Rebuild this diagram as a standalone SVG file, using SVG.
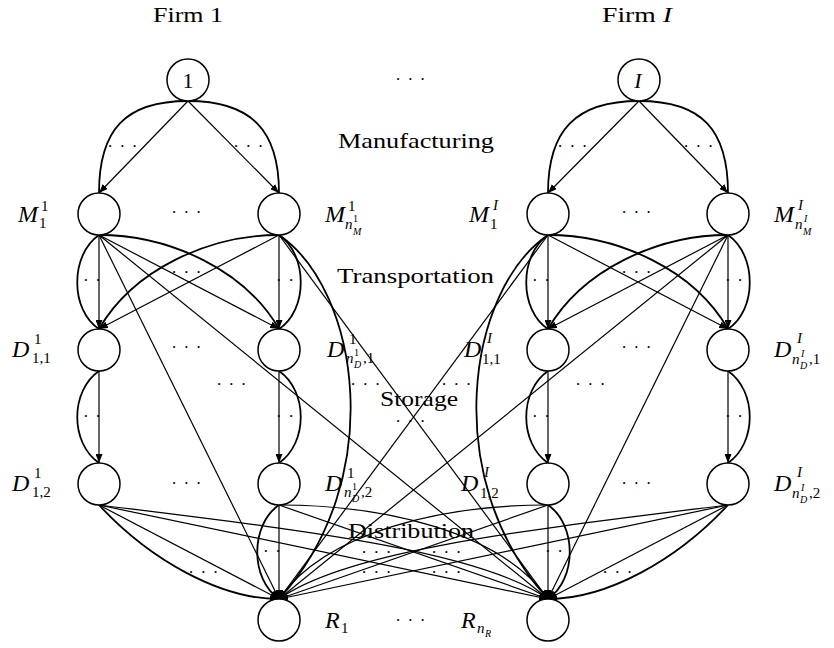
<svg xmlns="http://www.w3.org/2000/svg" width="834" height="648" viewBox="0 0 834 648">
<defs>
<marker id="ah" markerUnits="userSpaceOnUse" markerWidth="9" markerHeight="7" refX="9" refY="3.5" orient="auto"><path d="M0,0 L9,3.5 L0,7 z" fill="#000"/></marker>
</defs>
<style>
.n{fill:#fff;stroke:#000;stroke-width:1.5}
.e{fill:none;stroke:#000;stroke-width:1.2}
.a{fill:none;stroke:#000;stroke-width:1.8}
.m{marker-end:url(#ah)}
.t{font-family:"Liberation Serif","Times New Roman",serif;font-size:22px;fill:#000}
.b{font-size:24px}
.i{font-style:italic}
.s{font-size:15px}
.ss{font-size:10px}
.c{text-anchor:middle}
.d{font-family:"Liberation Serif","Times New Roman",serif;font-size:17px;letter-spacing:1.2px;text-anchor:middle;fill:#000}
</style>
<rect width="834" height="648" fill="#fff"/>

<g id="connectors">
<!-- Manufacturing -->
<path class="e m" d="M188,101 L99,193"/>
<path class="e m" d="M188,101 L279,193"/>
<path class="a" d="M188,101 C125,101 99,130 99,193"/>
<path class="a" d="M188,101 C251,101 279,130 279,193"/>
<path class="e m" d="M639,101 L548,193"/>
<path class="e m" d="M639,101 L728,193"/>
<path class="a" d="M639,101 C576,101 548,130 548,193"/>
<path class="a" d="M639,101 C702,101 728,130 728,193"/>
<!-- Transportation firm 1 -->
<path class="e m" d="M99,235 L99,329"/>
<path class="a" d="M99,235 C70,255 70,310 99,329"/>
<path class="e m" d="M279,235 L279,329"/>
<path class="a" d="M279,235 C308,255 308,310 279,329"/>
<path class="e m" d="M99,235 L279,329"/>
<path class="a" d="M99,235 C170,235 245,270 279,329"/>
<path class="e m" d="M279,235 L99,329"/>
<path class="a" d="M279,235 C208,235 133,270 99,329"/>
<path class="e m" d="M99,235 L279,599"/>
<path class="e m" d="M99,235 L548,599"/>
<path class="a m" d="M279,235 C360,290 388,480 279,599"/>
<path class="e m" d="M279,235 L548,599"/>
<!-- Transportation firm I -->
<path class="e m" d="M548,235 L548,329"/>
<path class="a" d="M548,235 C519,255 519,310 548,329"/>
<path class="e m" d="M728,235 L728,329"/>
<path class="a" d="M728,235 C757,255 757,310 728,329"/>
<path class="e m" d="M728,235 L548,329"/>
<path class="a" d="M728,235 C657,235 582,270 548,329"/>
<path class="e m" d="M548,235 L728,329"/>
<path class="a" d="M548,235 C619,235 694,270 728,329"/>
<path class="e m" d="M728,235 L548,599"/>
<path class="e m" d="M728,235 L279,599"/>
<path class="a m" d="M548,235 C467,290 439,480 548,599"/>
<path class="e m" d="M548,235 L279,599"/>
<!-- Storage -->
<path class="e m" d="M99,371 L99,463"/>
<path class="a" d="M99,371 C70,391 70,443 99,463"/>
<path class="e m" d="M279,371 L279,463"/>
<path class="a" d="M279,371 C308,391 308,443 279,463"/>
<path class="e m" d="M548,371 L548,463"/>
<path class="a" d="M548,371 C519,391 519,443 548,463"/>
<path class="e m" d="M728,371 L728,463"/>
<path class="a" d="M728,371 C757,391 757,443 728,463"/>
<!-- Distribution -->
<path class="e m" d="M99,505 L279,599"/>
<path class="a m" d="M99,505 C150,560 220,599 279,599"/>
<path class="e m" d="M99,505 L548,599"/>
<path class="e m" d="M99,505 C300,530 480,550 548,599"/>
<path class="e m" d="M279,505 L279,599"/>
<path class="a m" d="M279,505 C250,525 250,579 279,599"/>
<path class="e m" d="M279,505 L548,599"/>
<path class="e m" d="M279,505 C380,505 500,530 548,599"/>
<path class="e m" d="M548,505 L548,599"/>
<path class="a m" d="M548,505 C577,525 577,579 548,599"/>
<path class="e m" d="M548,505 L279,599"/>
<path class="e m" d="M548,505 C447,505 327,530 279,599"/>
<path class="e m" d="M728,505 L548,599"/>
<path class="a m" d="M728,505 C677,560 607,599 548,599"/>
<path class="e m" d="M728,505 L279,599"/>
<path class="e m" d="M728,505 C527,530 347,550 279,599"/>
</g>

<g id="labels">
<text class="t" x="153" y="22" textLength="70" lengthAdjust="spacingAndGlyphs">Firm 1</text>
<text class="t" x="602" y="22" textLength="70" lengthAdjust="spacingAndGlyphs">Firm <tspan class="i">I</tspan></text>
<text class="t" x="338" y="148" textLength="156" lengthAdjust="spacingAndGlyphs">Manufacturing</text>
<text class="t" x="337" y="283" textLength="157" lengthAdjust="spacingAndGlyphs">Transportation</text>
<text class="t" x="380" y="406" textLength="78" lengthAdjust="spacingAndGlyphs">Storage</text>
<text class="t" x="348" y="538" textLength="126" lengthAdjust="spacingAndGlyphs">Distribution</text>
</g>

<g id="dots">
<text class="d" x="411" y="85">· · ·</text>
<text class="d" x="187" y="218">· · ·</text>
<text class="d" x="637" y="218">· · ·</text>
<text class="d" x="187" y="353">· · ·</text>
<text class="d" x="637" y="353">· · ·</text>
<text class="d" x="187" y="489">· · ·</text>
<text class="d" x="637" y="489">· · ·</text>
<text class="d" x="411" y="626">· · ·</text>
<text class="d" x="123" y="152">· · ·</text>
<text class="d" x="249" y="152">· · ·</text>
<text class="d" x="573" y="152">· · ·</text>
<text class="d" x="699" y="152">· · ·</text>
<text class="d" x="187" y="278">· · ·</text>
<text class="d" x="637" y="278">· · ·</text>
<text class="d" x="92.5" y="286">· ·</text>
<text class="d" x="285.5" y="286">· ·</text>
<text class="d" x="541.5" y="286">· ·</text>
<text class="d" x="734.5" y="286">· ·</text>
<text class="d" x="92.5" y="422">· ·</text>
<text class="d" x="285.5" y="422">· ·</text>
<text class="d" x="541.5" y="422">· ·</text>
<text class="d" x="734.5" y="422">· ·</text>
<text class="d" x="232" y="390">· · ·</text>
<text class="d" x="366" y="390">· · ·</text>
<text class="d" x="457" y="390">· · ·</text>
<text class="d" x="591" y="390">· · ·</text>
<text class="d" x="411" y="427">· · ·</text>
<text class="d" x="272.5" y="557">· ·</text>
<text class="d" x="554.5" y="557">· ·</text>
<text class="d" x="204" y="578">· · ·</text>
<text class="d" x="618" y="578">· · ·</text>
<text class="d" x="377" y="558">· · ·</text>
<text class="d" x="447" y="558">· · ·</text>
<text class="d" x="377" y="578">· · ·</text>
<text class="d" x="447" y="578">· · ·</text>
</g>

<g id="node-firm1"><circle class="n" cx="188" cy="80" r="21"/><text class="t c" x="188" y="88">1</text></g>
<g id="node-firmI"><circle class="n" cx="639" cy="80" r="21"/><text class="t c i" x="638" y="88">I</text></g>

<g id="node-M1-1"><circle class="n" cx="99" cy="214" r="21"/>
<text class="t b i" x="18" y="222">M</text><text class="t s" x="41" y="211">1</text><text class="t s" x="39" y="228">1</text></g>
<g id="node-Mn-1"><circle class="n" cx="279" cy="214" r="21"/>
<text class="t b i" x="325" y="222">M</text><text class="t s" x="348" y="211">1</text><text class="t s i" x="345" y="229">n</text><text class="t ss" x="353" y="222">1</text><text class="t ss i" x="353" y="235">M</text></g>
<g id="node-M1-I"><circle class="n" cx="548" cy="214" r="21"/>
<text class="t b i" x="469" y="222">M</text><text class="t s i" x="493" y="210">I</text><text class="t s" x="490" y="229">1</text></g>
<g id="node-Mn-I"><circle class="n" cx="728" cy="214" r="21"/>
<text class="t b i" x="774" y="222">M</text><text class="t s i" x="798" y="210">I</text><text class="t s i" x="795" y="229">n</text><text class="t ss i" x="804" y="222">I</text><text class="t ss i" x="803" y="235">M</text></g>

<g id="node-D11-1"><circle class="n" cx="99" cy="350" r="21"/>
<text class="t b i" x="12" y="357">D</text><text class="t s" x="34" y="344">1</text><text class="t s" x="32" y="363">1,1</text></g>
<g id="node-Dn1-1"><circle class="n" cx="279" cy="350" r="21"/>
<text class="t b i" x="327" y="357">D</text><text class="t s" x="349" y="344">1</text><text class="t s i" x="346" y="363">n</text><text class="t ss" x="354" y="356">1</text><text class="t ss i" x="354" y="368">D</text><text class="t s" x="363" y="363">,1</text></g>
<g id="node-D11-I"><circle class="n" cx="548" cy="350" r="21"/>
<text class="t b i" x="464" y="357">D</text><text class="t s i" x="487" y="343">I</text><text class="t s" x="482" y="364">1,1</text></g>
<g id="node-Dn1-I"><circle class="n" cx="728" cy="350" r="21"/>
<text class="t b i" x="774" y="357">D</text><text class="t s i" x="797" y="343">I</text><text class="t s i" x="792" y="364">n</text><text class="t ss i" x="801" y="357">I</text><text class="t ss i" x="800" y="369">D</text><text class="t s" x="809" y="364">,1</text></g>

<g id="node-D12-1"><circle class="n" cx="99" cy="484" r="21"/>
<text class="t b i" x="12" y="491">D</text><text class="t s" x="34" y="478">1</text><text class="t s" x="32" y="497">1,2</text></g>
<g id="node-Dn2-1"><circle class="n" cx="279" cy="484" r="21"/>
<text class="t b i" x="325" y="491">D</text><text class="t s" x="347" y="478">1</text><text class="t s i" x="344" y="497">n</text><text class="t ss" x="352" y="490">1</text><text class="t ss i" x="352" y="502">D</text><text class="t s" x="361" y="497">,2</text></g>
<g id="node-D12-I"><circle class="n" cx="548" cy="484" r="21"/>
<text class="t b i" x="461" y="491">D</text><text class="t s i" x="484" y="477">I</text><text class="t s" x="480" y="498">1,2</text></g>
<g id="node-Dn2-I"><circle class="n" cx="728" cy="484" r="21"/>
<text class="t b i" x="774" y="491">D</text><text class="t s i" x="797" y="477">I</text><text class="t s i" x="792" y="498">n</text><text class="t ss i" x="801" y="491">I</text><text class="t ss i" x="800" y="503">D</text><text class="t s" x="809" y="498">,2</text></g>

<g id="node-R1"><circle class="n" cx="279" cy="620" r="21"/>
<text class="t b i" x="325" y="628">R</text><text class="t s" x="341" y="633">1</text></g>
<g id="node-RnR"><circle class="n" cx="548" cy="620" r="21"/>
<text class="t b i" x="461" y="628">R</text><text class="t s i" x="477" y="633">n</text><text class="t ss i" x="485" y="637">R</text></g>
</svg>
